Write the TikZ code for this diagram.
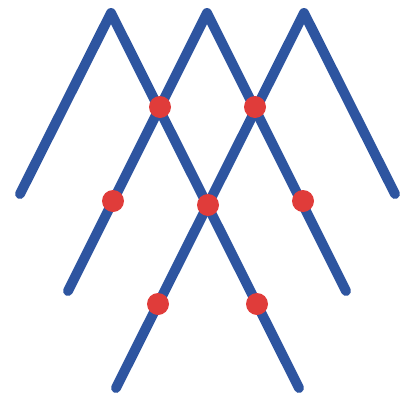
\documentclass[tikz,border=0pt]{standalone}
\usepackage{tikz}
\usetikzlibrary{positioning}

\definecolor{zigblue}{RGB}{46,85,160}
\definecolor{dotred}{RGB}{224,60,58}

\begin{document}
\begin{tikzpicture}[
    x=1pt, y=-1pt,
    zig/.style={draw=zigblue, line width=10pt, line cap=round, line join=round},
    crossdot/.style={circle, fill=dotred, inner sep=0pt, minimum size=22pt},
]
\useasboundingbox (0,0) rectangle (407,394);

% Peaks and ends of the three zigzags
\coordinate (p1) at (111,13);
\coordinate (p2) at (207,13);
\coordinate (p3) at (304,13);
\coordinate (l1) at (20,194);
\coordinate (r1) at (299,388);
\coordinate (l2) at (68,291);
\coordinate (r2) at (346,291);
\coordinate (l3) at (116,388);
\coordinate (r3) at (395,194);

% Blue lines
\draw[zig] (l1) -- (p1) -- (r1);
\draw[zig] (l2) -- (p2) -- (r2);
\draw[zig] (l3) -- (p3) -- (r3);

% Red dots
\node[crossdot] (a) at (160,107) {};
\node[crossdot] (b) at (255,107) {};
\node[crossdot] (c) at (113,201) {};
\node[crossdot] (d) at (208,205) {};
\node[crossdot] (e) at (303,201) {};
\node[crossdot] (f) at (158,304) {};
\node[crossdot] (g) at (257,304) {};

\end{tikzpicture}
\end{document}
